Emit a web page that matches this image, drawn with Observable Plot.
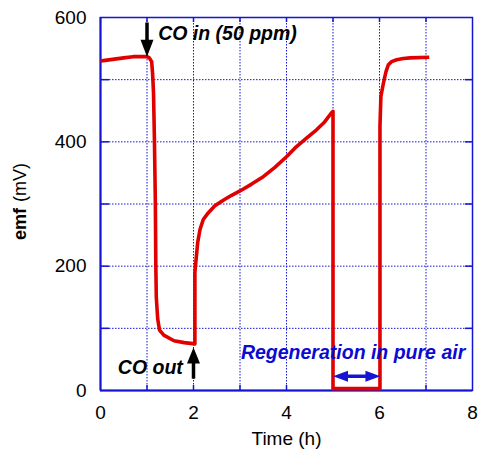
<!DOCTYPE html>
<html>
<head>
<meta charset="utf-8">
<script src="https://cdn.jsdelivr.net/npm/d3@7"></script>
<script src="https://cdn.jsdelivr.net/npm/@observablehq/plot@0.6"></script>
<style>
  html, body { margin: 0; padding: 0; background: white; }
</style>
</head>
<body>
<div id="chart"></div>
<script>
// ---- data ----
const time = [0, 0.1, 0.3, 0.5, 0.7, 1.0, 1.05, 1.1, 1.12, 1.14, 1.16, 1.18, 1.19, 1.2, 1.23, 1.27, 1.36, 1.58, 1.8, 2.03,
  2.03, 2.05, 2.09, 2.14, 2.21, 2.32, 2.46, 2.64, 2.82, 3.0, 3.25, 3.5, 3.75, 4.0, 4.21, 4.43, 4.64, 4.82, 4.96, 5.0,
  5.0, 6.01,
  6.01, 6.03, 6.07, 6.1, 6.14, 6.19, 6.26, 6.37, 6.51, 6.66, 7.07];
const emf = [530, 531, 533, 535, 537, 537, 535, 529, 510, 479, 403, 300, 200, 150, 115, 97, 89, 80, 77, 75,
  190, 206, 238, 259, 275, 286, 297, 306, 314, 321, 332, 344, 359, 376, 392, 406, 419, 432, 446, 449,
  3, 3,
  425, 473, 489, 500, 513, 524, 529, 532, 534, 535, 536];

const xTickLabels = [0, 2, 4, 6, 8];
const yTickLabels = [0, 200, 400, 600];
const xGrid = [1, 2, 3, 4, 5, 6, 7];
const yGrid = [100, 200, 300, 400, 500];

// annotations
const coInLabel = {s: "CO in (50 ppm)", x: 1.24, y: 574};
const coOutLabel = {s: "CO out", x: 1.77, y: 37};
const regenLabel = {s: "Regeneration in pure air", x: 3.02, y: 61};

// arrows: shaft start/end and tip
const coInArrow = {x: 1, yFrom: 592, yTo: 560, yTip: 537};
const coOutArrow = {x: 2, yFrom: 19, yTo: 46, yTip: 69};
const regenArrow = {y: 23, xFrom: 5.15, xTo: 5.85, xTips: [5.0, 6.02]};

// ---- drawing ----
const blue = "#1414d2";
const textBlue = "#0a0ad2";
const red = "#e00000";
const data = time.map((t, i) => ({t, v: emf[i]}));

function headSymbol(len, half) {
  // tip at the origin, pointing down (rotate to orient)
  return {draw(ctx) { ctx.moveTo(0, 0); ctx.lineTo(-half, -len); ctx.lineTo(half, -len); ctx.closePath(); }};
}

const W = 479, H = 458, mL = 100, mR = 7, mT = 17, mB = 68;
const fw = W - mL - mR, fh = H - mT - mB;
const font = "'Liberation Sans', Arial, Helvetica, sans-serif";
const annStyle = {x: "x", y: "y", text: "s", fontSize: 19.5, fontWeight: "bold", fontStyle: "italic"};

const chart = Plot.plot({
  width: W, height: H,
  marginLeft: mL, marginRight: mR, marginTop: mT, marginBottom: mB,
  style: {fontFamily: font, background: "white", color: "black"},
  x: {domain: [0, 8]},
  y: {domain: [0, 600]},
  marks: [
    Plot.ruleX(xGrid, {stroke: blue, strokeWidth: 1, strokeDasharray: "1.5,1.5"}),
    Plot.ruleY(yGrid, {stroke: blue, strokeWidth: 1, strokeDasharray: "1.5,1.5"}),
    // inward minor ticks
    Plot.ruleY(yGrid, {stroke: blue, strokeWidth: 1.5, insetRight: fw - 9}),
    Plot.ruleY(yGrid, {stroke: blue, strokeWidth: 1.5, insetLeft: fw - 7}),
    Plot.ruleX(xGrid, {stroke: blue, strokeWidth: 1.5, insetBottom: fh - 5}),
    Plot.ruleX(xGrid, {stroke: blue, strokeWidth: 1.5, insetTop: fh - 5}),
    Plot.frame({stroke: blue, strokeWidth: 1.5}),
    Plot.ruleY([0], {stroke: blue, strokeWidth: 2}),
    Plot.ruleX([0], {stroke: blue, strokeWidth: 2}),
    Plot.axisX(xTickLabels, {tickSize: 0, tickPadding: 15, fontSize: 19, label: null, fill: "black"}),
    Plot.axisY(yTickLabels, {tickSize: 0, tickPadding: 14, fontSize: 19, label: null, fill: "black"}),
    // the trace
    Plot.line(data, {x: "t", y: "v", stroke: red, strokeWidth: 3.6, strokeLinejoin: "round", strokeLinecap: "butt"}),
    // arrows
    Plot.link([coInArrow], {x1: "x", x2: "x", y1: "yFrom", y2: "yTo", stroke: "black", strokeWidth: 3.5}),
    Plot.dot([coInArrow], {x: "x", y: "yTip", symbol: headSymbol(17, 6.5), r: 5, fill: "black", stroke: "none", rotate: 0}),
    Plot.link([coOutArrow], {x1: "x", x2: "x", y1: "yFrom", y2: "yTo", stroke: "black", strokeWidth: 3.5}),
    Plot.dot([coOutArrow], {x: "x", y: "yTip", symbol: headSymbol(16, 6.5), r: 5, fill: "black", stroke: "none", rotate: 180}),
    Plot.link([regenArrow], {x1: "xFrom", x2: "xTo", y1: "y", y2: "y", stroke: blue, strokeWidth: 3.5}),
    Plot.dot([regenArrow.xTips[0]], {x: d => d, y: () => regenArrow.y, symbol: headSymbol(15, 5.5), r: 5, fill: blue, stroke: "none", rotate: 90}),
    Plot.dot([regenArrow.xTips[1]], {x: d => d, y: () => regenArrow.y, symbol: headSymbol(15, 5.5), r: 5, fill: blue, stroke: "none", rotate: -90}),
    // annotations
    Plot.text([coInLabel], {...annStyle, textAnchor: "start", fill: "black"}),
    Plot.text([coOutLabel], {...annStyle, textAnchor: "end", fill: "black"}),
    Plot.text([regenLabel], {...annStyle, textAnchor: "start", fill: textBlue}),
    // axis titles
    Plot.text(["Time (h)"], {frameAnchor: "bottom", dy: 54, fontSize: 19, fill: "black"}),
    Plot.text(["emf"], {frameAnchor: "left", dx: -80, dy: 36, rotate: -90, textAnchor: "start", fontSize: 18, fontWeight: "bold", fill: "black"}),
    Plot.text(["(mV)"], {frameAnchor: "left", dx: -80, dy: -41, rotate: -90, textAnchor: "end", fontSize: 18, fill: "black"})
  ]
});
document.getElementById("chart").appendChild(chart);
</script>
</body>
</html>
